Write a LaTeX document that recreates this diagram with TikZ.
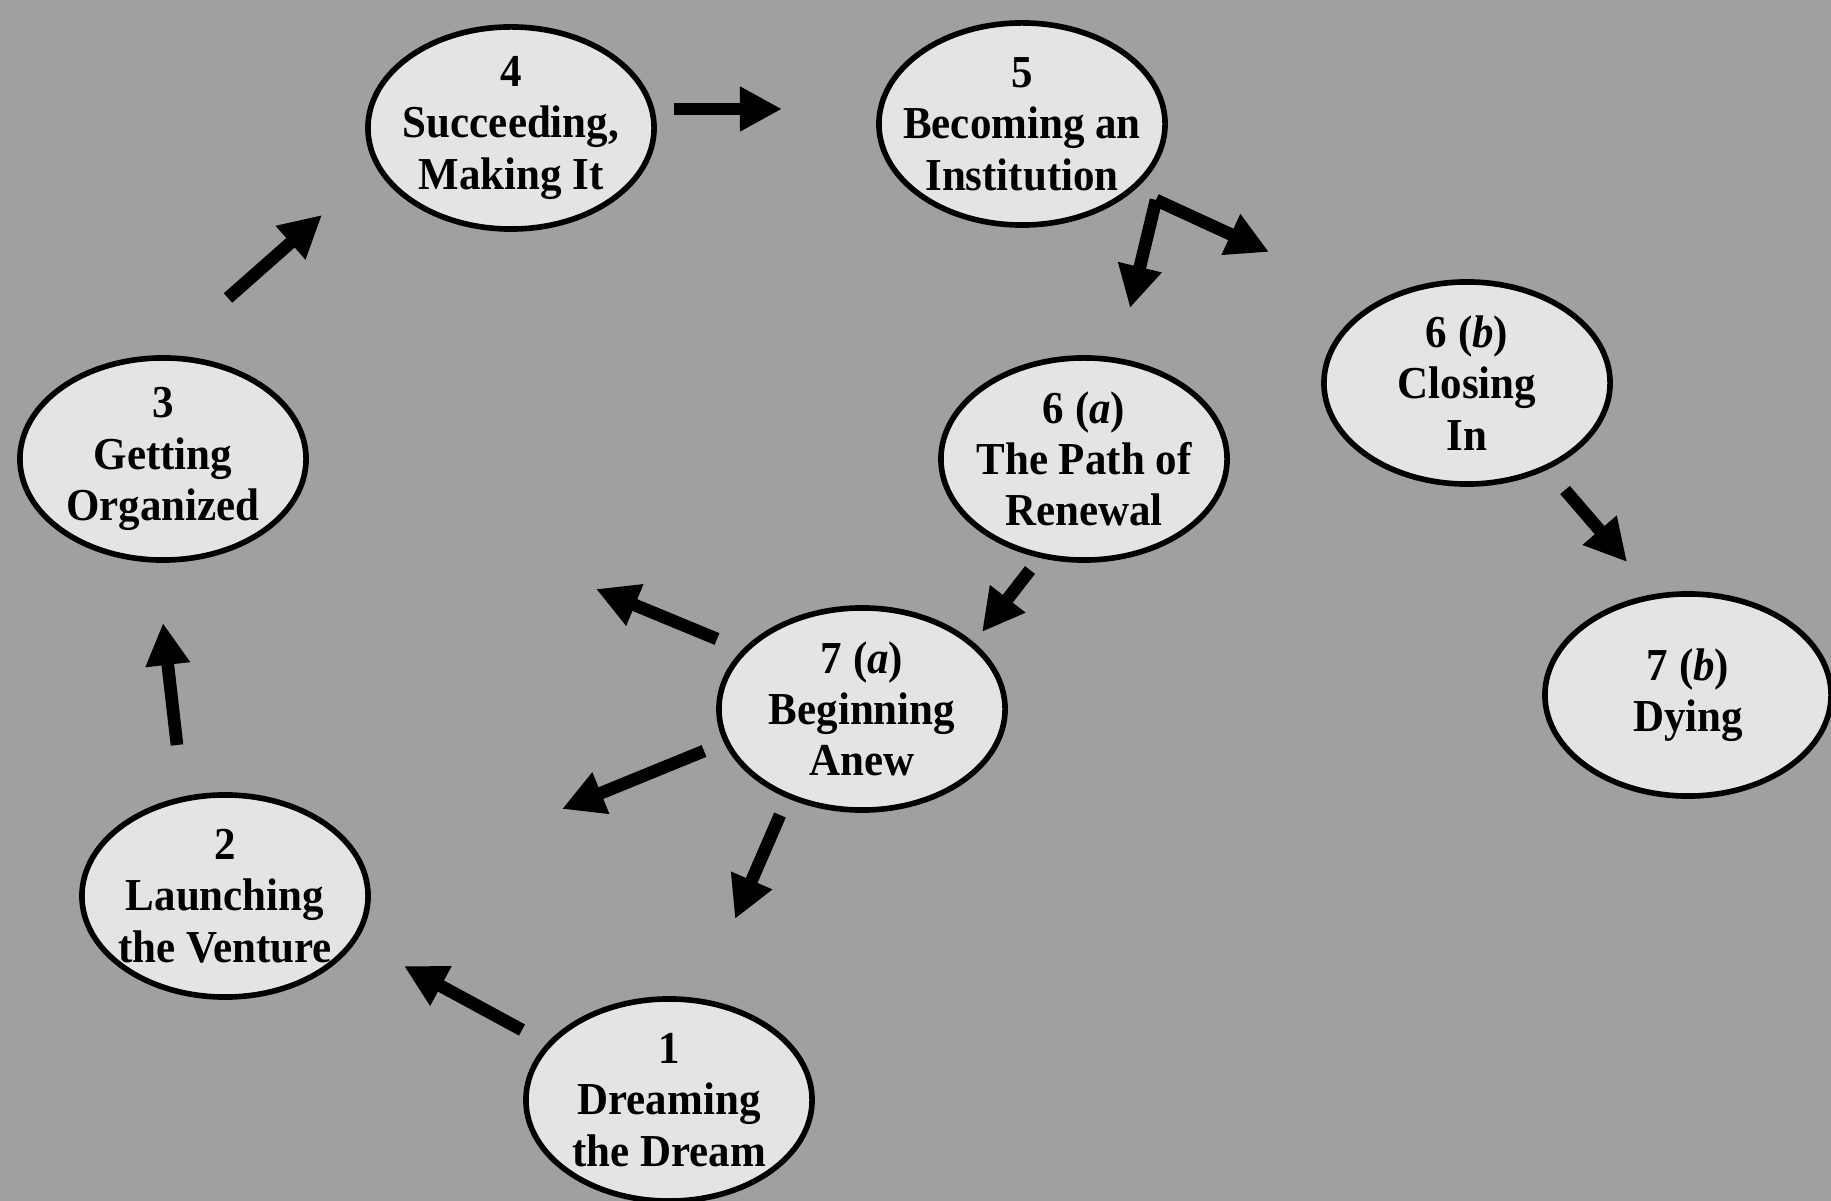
\documentclass[tikz,border=0pt]{standalone}
\usepackage{fontspec}
\setmainfont{Liberation Serif}[FakeStretch=0.94]
\usetikzlibrary{shapes.geometric,arrows.meta}
\definecolor{scan}{RGB}{160,160,160}
\definecolor{bubble}{RGB}{228,228,228}
\tikzset{
  stage/.style={draw,ellipse,line width=1.6pt,fill=bubble,minimum width=2.86cm,minimum height=2.02cm,
    inner xsep=-3mm,inner ysep=-1.5mm,align=center,font=\bfseries\fontsize{13}{14.6}\selectfont},
  pointer/.style={line width=3.6pt,-{Triangle[length=4.2mm,width=4.2mm]}}
}
\begin{document}
\begin{tikzpicture}[x=0.01cm,y=-0.01cm]
\fill[scan] (0,0) rectangle (1831,1201);
\useasboundingbox (0,0) rectangle (1831,1201);
\node[stage] (s4) at (511,128) {4\\Succeeding,\\Making It};
\node[stage] (s5) at (1022,124) {5\\Becoming an\\Institution};
\node[stage] (s3) at (163,459) {3\\Getting\\Organized};
\node[stage] (s6a) at (1084,459) {6 (\textit{a})\\The Path of\\Renewal};
\node[stage] (s6b) at (1467,383) {6 (\textit{b})\\Closing\\In};
\node[stage] (s7a) at (862,709) {7 (\textit{a})\\Beginning\\Anew};
\node[stage] (s7b) at (1688,695) {7 (\textit{b})\\Dying};
\node[stage] (s2) at (225,896) {2\\Launching\\the Venture};
\node[stage] (s1) at (669,1100) {1\\Dreaming\\the Dream};
% arrow ends
\coordinate (t45) at (674,109);  \coordinate (h45) at (782,109);
\coordinate (t34) at (228,298);  \coordinate (h34) at (322,215);
\coordinate (t23) at (177,745);  \coordinate (h23) at (163,623);
\coordinate (t12) at (522,1030); \coordinate (h12) at (404,966);
\coordinate (t56a) at (1156,200); \coordinate (h56a) at (1130,308);
\coordinate (t56b) at (1156,200); \coordinate (h56b) at (1269,252);
\coordinate (t67b) at (1565,490); \coordinate (h67b) at (1627,562);
\coordinate (t67a) at (1030,570); \coordinate (h67a) at (982,632);
\coordinate (t73) at (717,639);  \coordinate (h73) at (596,589);
\coordinate (t72) at (704,751);  \coordinate (h72) at (562,809);
\coordinate (t71) at (780,815);  \coordinate (h71) at (735,919);
\foreach \a in {45,34,23,12,56a,56b,67b,67a,73,72,71}
  \draw[pointer] (t\a)--(h\a);
\end{tikzpicture}
\end{document}
